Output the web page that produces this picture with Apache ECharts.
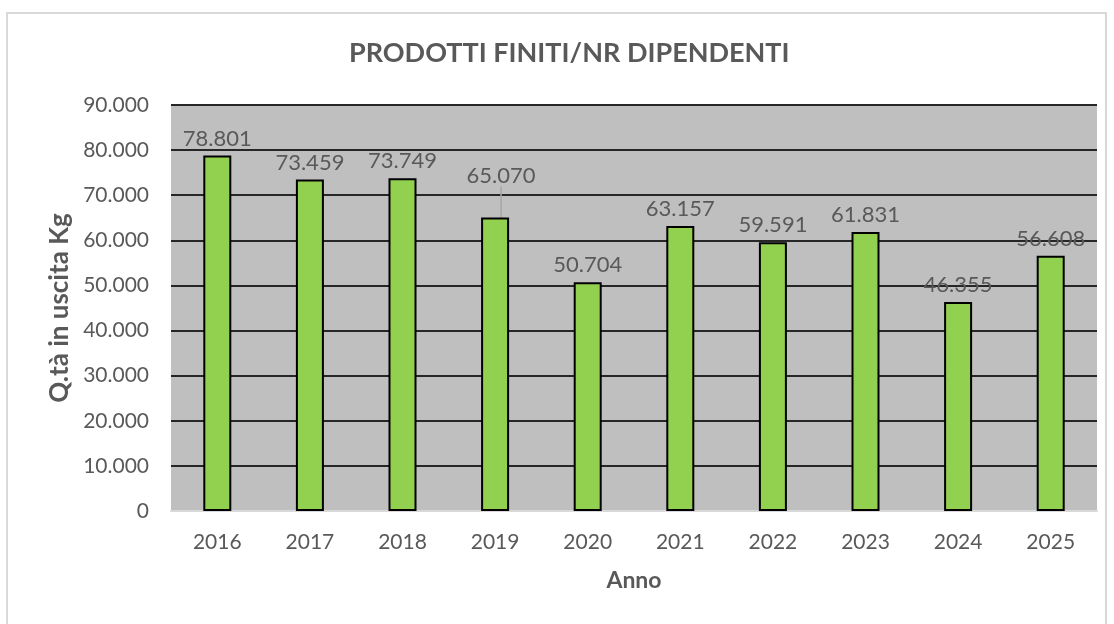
<!DOCTYPE html>
<html>
<head>
<meta charset="utf-8">
<title>Prodotti finiti / nr dipendenti</title>
<script src="https://cdn.jsdelivr.net/npm/echarts@6/dist/echarts.min.js"></script>
<style>
  html, body { margin: 0; padding: 0; background: #fff; }
  #chart { width: 1114px; height: 624px; }
</style>
</head>
<body>
<div id="chart"></div>
<script>
// dati
const years = ['2016', '2017', '2018', '2019', '2020', '2021', '2022', '2023', '2024', '2025']
const qtaKg = [78801, 73459, 73749, 65070, 50704, 63157, 59591, 61831, 46355, 56608]

const fontFamily = 'Lato, "Open Sans", sans-serif'
const grey = '#595959'

// formato italiano: 78.801
function fmt(v) {
  return String(v).replace(/\B(?=(\d{3})+(?!\d))/g, '.')
}

const chart = echarts.init(document.getElementById('chart'))

chart.setOption({
  animation: false,
  textStyle: { fontFamily: fontFamily },
  graphic: [{
    type: 'rect',
    shape: { x: 7, y: 13, width: 1099, height: 630 },
    style: { fill: 'none', stroke: '#d9d9d9', lineWidth: 2 },
    z: -10
  }],
  title: {
    text: 'PRODOTTI FINITI/NR DIPENDENTI',
    left: 344,
    top: 35,
    textStyle: { fontSize: 27, fontWeight: 'bold', color: grey, fontFamily: fontFamily }
  },
  grid: {
    left: 171,
    right: 17,
    top: 105,
    bottom: 113,
    show: true,
    backgroundColor: '#bfbfbf',
    borderWidth: 0
  },
  xAxis: {
    type: 'category',
    data: years,
    name: 'Anno',
    nameLocation: 'middle',
    nameGap: 58,
    nameTextStyle: { fontSize: 23, fontWeight: 'bold', color: grey },
    axisLine: { lineStyle: { color: '#d9d9d9', width: 2 } },
    axisTick: { show: false },
    axisLabel: { fontSize: 21, color: grey, margin: 21 }
  },
  yAxis: {
    type: 'value',
    min: 0,
    max: 90000,
    interval: 10000,
    name: 'Q.tà in uscita Kg',
    nameLocation: 'middle',
    nameGap: 98,
    nameTextStyle: { fontSize: 26, fontWeight: 'bold', color: grey },
    axisLine: { show: false },
    axisTick: { show: false },
    axisLabel: { fontSize: 21, color: grey, margin: 22, formatter: fmt },
    splitLine: { lineStyle: { color: '#262626', width: 2 } }
  },
  series: [{
    type: 'bar',
    barWidth: 28,
    data: qtaKg.map((v, i) => i === 3 ? { value: v, labelLine: { show: true } } : v),
    itemStyle: { color: '#92d050', borderColor: '#000', borderWidth: 2 },
    label: {
      show: true,
      position: 'top',
      distance: 6,
      fontSize: 22,
      color: grey,
      formatter: p => fmt(p.value)
    },
    labelLine: { show: false, lineStyle: { color: '#a6a6a6', width: 1.5 } },
    labelLayout: p => p.dataIndex === 3 ? { dx: 6, dy: -25 } : {}
  }]
})
</script>
</body>
</html>
